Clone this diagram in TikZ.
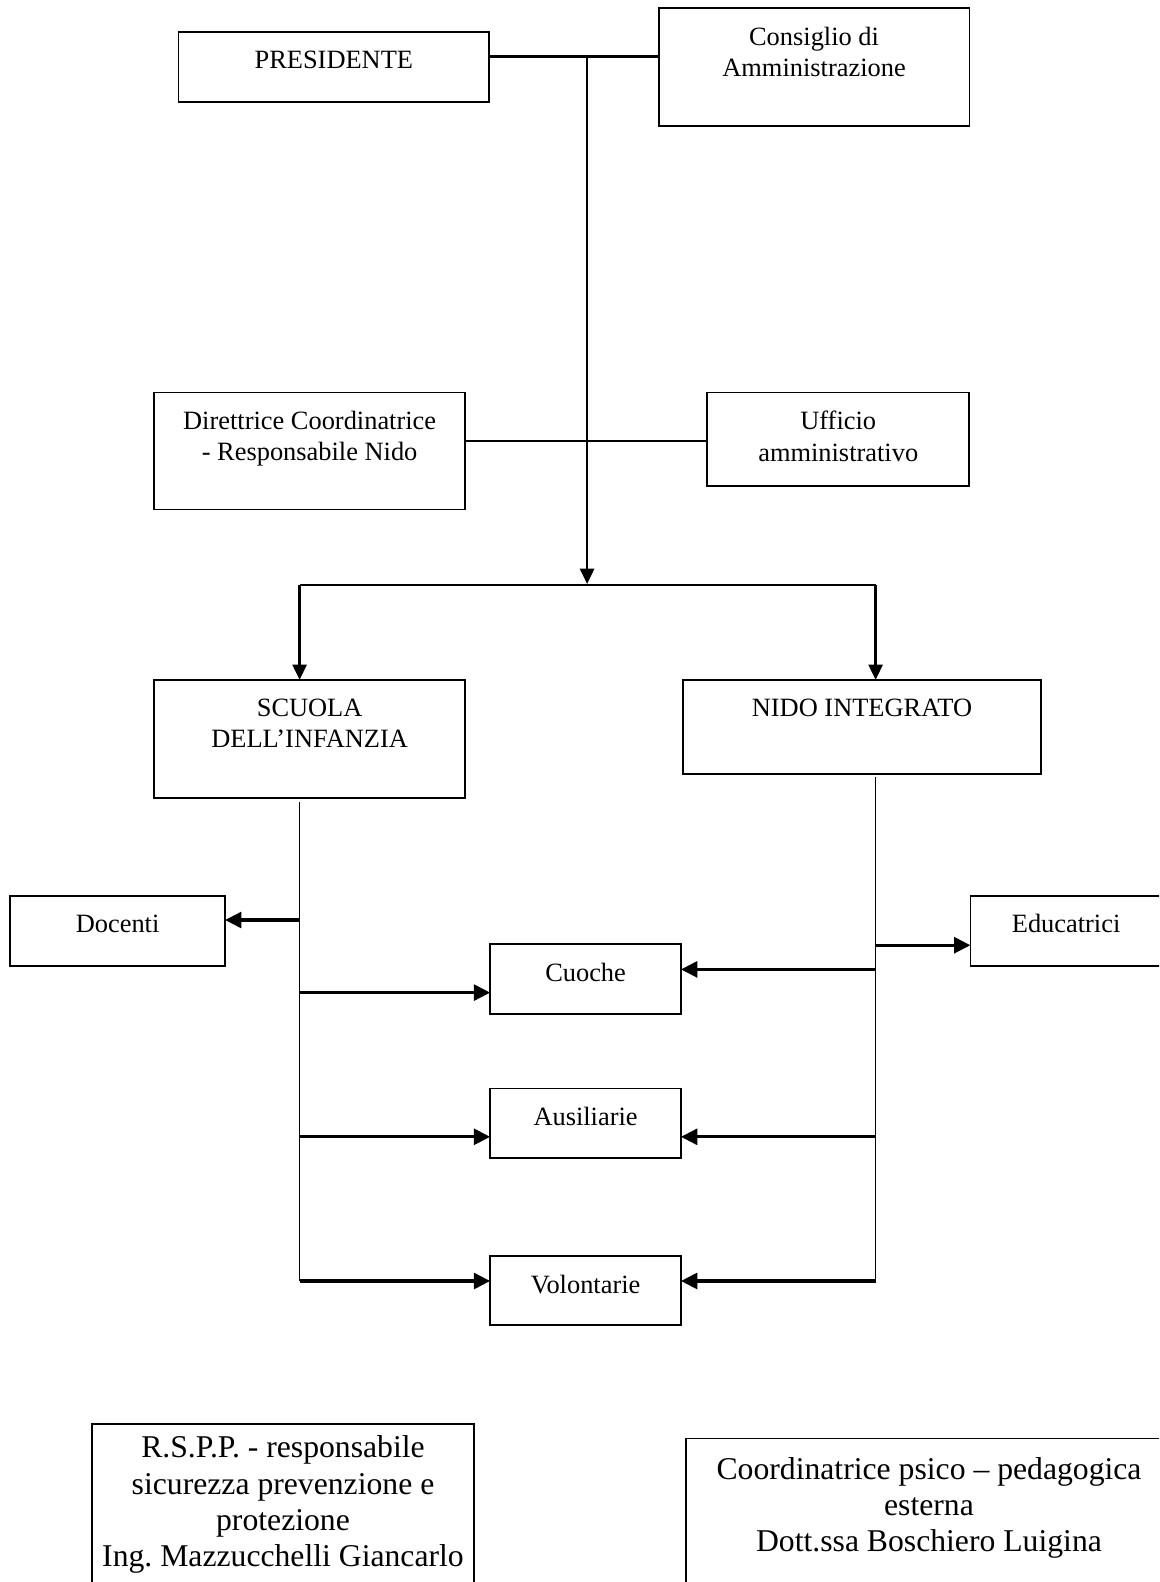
\documentclass[tikz,border=0pt]{standalone}
\usepackage{fontspec}
\setmainfont{Liberation Serif}
\usetikzlibrary{arrows.meta}

\begin{document}
\begin{tikzpicture}[x=0.4545pt, y=-0.4545pt]
	\tikzstyle{unit}=[draw, rectangle, anchor=north west, inner sep=0pt,
		outer sep=0pt, line width=0.8pt]
	\tikzstyle{caption}=[anchor=north, align=center, inner sep=0pt,
		yshift=-8.4pt, font=\fontsize{12}{14.2}\selectfont]
	\tikzstyle{bigcaption}=[caption, font=\fontsize{14.4}{16.5}\selectfont]
	\tikzstyle{link}=[line width=1pt]
	\tikzstyle{spine}=[line width=0.7pt]
	\tikzstyle{down}=[->, line width=1.2pt, >={Triangle[length=7pt, width=6.4pt]}]
	\tikzstyle{feed}=[->, line width=1.4pt, >={Triangle[length=7.4pt, width=7.2pt]}]

	\useasboundingbox (0,0) rectangle (1159,1582);
	\clip (0,0) rectangle (1159,1582);

	% vertici
	\node[unit, minimum width=141.2pt, minimum height=31.6pt] (pres) at (178.5,32.3) {};
	\node[caption] (presT) at (pres.north) {PRESIDENTE};
	\node[unit, minimum width=141.2pt, minimum height=53.6pt] (cons) at (658.7,8.1) {};
	\node[caption] (consT) at (cons.north) {Consiglio di\\Amministrazione};

	\node[unit, minimum width=141.2pt, minimum height=53.2pt] (dir) at (154.3,392.4) {};
	\node[caption] (dirT) at (dir.north) {Direttrice Coordinatrice\\- Responsabile Nido};
	\node[unit, minimum width=119.2pt, minimum height=42.6pt] (uff) at (707.1,392.4) {};
	\node[caption] (uffT) at (uff.north) {Ufficio\\amministrativo};

	% scuole
	\node[unit, minimum width=141.2pt, minimum height=53.6pt] (scuola) at (154.3,679.9) {};
	\node[caption] (scuolaT) at (scuola.north) {SCUOLA\\DELL’INFANZIA};
	\node[unit, minimum width=162.8pt, minimum height=42.6pt] (nido) at (682.9,679.9) {};
	\node[caption] (nidoT) at (nido.north) {NIDO INTEGRATO};

	% personale
	\node[unit, minimum width=97.7pt, minimum height=32.1pt] (doc) at (10.1,895.7) {};
	\node[caption] (docT) at (doc.north) {Docenti};
	\node[unit, minimum width=100pt, minimum height=32.1pt] (educ) at (970.4,895.7) {};
	\node[caption, xshift=-6.5pt] (educT) at (educ.north) {Educatrici};
	\node[unit, minimum width=86.7pt, minimum height=31.6pt] (cuoche) at (490.2,944.1) {};
	\node[caption] (cuocheT) at (cuoche.north) {Cuoche};
	\node[unit, minimum width=86.7pt, minimum height=31.6pt] (ausil) at (490.2,1088.4) {};
	\node[caption] (ausilT) at (ausil.north) {Ausiliarie};
	\node[unit, minimum width=86.7pt, minimum height=31.6pt] (volont) at (490.2,1255.8) {};
	\node[caption] (volontT) at (volont.north) {Volontarie};

	% esterni
	\node[unit, minimum width=173.8pt, minimum height=90.9pt] (rspp) at (91.8,1424.3) {};
	\node[bigcaption, yshift=3.4pt] (rsppT) at (rspp.north)
		{R.S.P.P. - responsabile\\sicurezza prevenzione e\\protezione\\Ing.\ Mazzucchelli Giancarlo};
	\node[unit, minimum width=240pt, minimum height=90.9pt] (coord) at (685.9,1438.4) {};
	\node[bigcaption, xshift=-9.5pt] (coordT) at (coord.north)
		{Coordinatrice psico – pedagogica\\esterna\\Dott.ssa Boschiero Luigina};

	\coordinate (top) at (587.1,56.5);
	\coordinate (mid) at (587.1,440.8);
	\coordinate (fork) at (587.1,584);
	\coordinate (lfork) at (299.6,585);
	\coordinate (rfork) at (875.6,585);
	\coordinate (lspine) at (299.6,802);
	\coordinate (rspine) at (875.6,776.7);

	\draw[link] (pres.east |- top) -- (cons.west |- top);
	\draw[link] (dir.east |- mid) -- (uff.west |- mid);
	\draw[down] (top) -- (fork);
	\draw[link] (lfork) -- (rfork);
	\draw[down] (lfork) -- (lfork |- scuola.north);
	\draw[down] (rfork) -- (rfork |- nido.north);

	\draw[spine] (lspine) -- (lspine |- 0,1281);
	\draw[spine] (rspine) -- (rspine |- 0,1279);

	\draw[feed] (lspine |- 0,920) -- (doc.east |- 0,920);
	\draw[feed] (lspine |- 0,992.6) -- (cuoche.west |- 0,992.6);
	\draw[feed] (lspine |- 0,1136.8) -- (ausil.west |- 0,1136.8);
	\draw[feed] (lspine |- 0,1281) -- (volont.west |- 0,1281);
	\draw[feed] (rspine |- 0,945.2) -- (educ.west |- 0,945.2);
	\draw[feed] (rspine |- 0,969.4) -- (cuoche.east |- 0,969.4);
	\draw[feed] (rspine |- 0,1136.8) -- (ausil.east |- 0,1136.8);
	\draw[feed] (rspine |- 0,1281) -- (volont.east |- 0,1281);
\end{tikzpicture}
\end{document}
